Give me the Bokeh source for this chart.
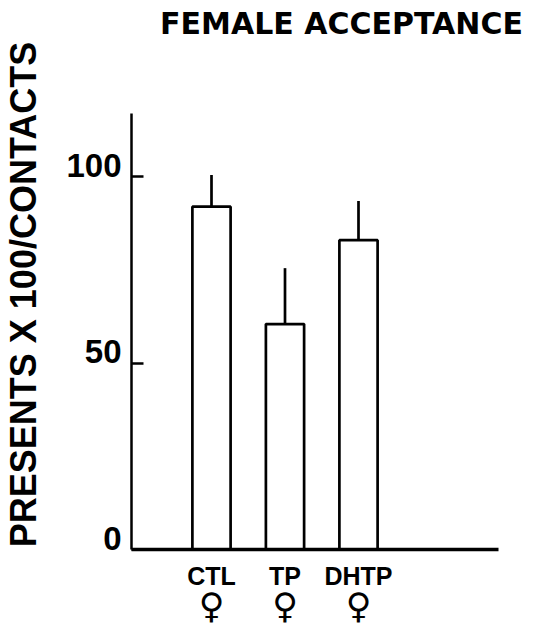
import math
from bokeh.plotting import figure
from bokeh.models import (ColumnDataSource, LabelSet, Label, Range1d, FixedTicker,
                          LinearAxis)
from bokeh.core.properties import value
from bokeh.embed import file_html
from bokeh.resources import INLINE

# ---- data ----
categories = ["CTL", "TP", "DHTP"]
symbols = ["\u2640", "\u2640", "\u2640"]
means = [92, 60.5, 83]
errors = [8.5, 15, 10.5]
y_ticks = [0, 50, 100]
y_tick_labels = ["0", "50", "100"]
title_text = "FEMALE ACCEPTANCE"
y_title = "PRESENTS X 100/CONTACTS"

W, H = 534, 629
# layout of the plotting area (pixels)
BAR_PX0, BAR_STEP = 211, 73.5          # centre of first bar, spacing
AX_LEFT, AX_RIGHT, AX_BOTTOM = 131, 498, 549
PX_PER_UNIT = 436 / 117
Y_TOP = 117

def xd(px):
    return 1 + (px - BAR_PX0) / BAR_STEP

def yd(py):
    return (AX_BOTTOM - py) / PX_PER_UNIT

xpos = [1, 2, 3]
tops = [m + e for m, e in zip(means, errors)]
x_axis_loc = xd(AX_LEFT)

src = ColumnDataSource(dict(x=xpos, cat=categories, sym=symbols,
                            mean=means, top=tops, zero=[0] * len(xpos)))
tick_src = ColumnDataSource(dict(y=y_ticks, lab=y_tick_labels,
                                 x=[x_axis_loc] * len(y_ticks)))

p = figure(width=W, height=H, output_backend="svg", toolbar_location=None,
           x_range=Range1d(xd(0), xd(W)), y_range=Range1d(yd(H), yd(0)),
           min_border=0, x_axis_type=None, y_axis_type=None)
p.outline_line_color = None
p.background_fill_color = "white"
p.border_fill_color = "white"

# axes drawn at fixed data locations
yax = LinearAxis(ticker=FixedTicker(ticks=y_ticks), fixed_location=x_axis_loc,
                 bounds=(0, Y_TOP),
                 major_label_overrides={t: "" for t in y_ticks})
yax.axis_line_width = 2.5
yax.axis_line_color = "black"
yax.major_tick_in = 12
yax.major_tick_out = 0
yax.major_tick_line_width = 2.5
yax.minor_tick_line_color = None
p.add_layout(yax, "left")

xax = LinearAxis(ticker=FixedTicker(ticks=[]), fixed_location=0,
                 bounds=(x_axis_loc, xd(AX_RIGHT)))
xax.axis_line_width = 3.5
xax.axis_line_color = "black"
xax.major_tick_line_color = None
xax.minor_tick_line_color = None
p.add_layout(xax, "above")

# bars
p.vbar(x="x", top="mean", bottom=0, width=0.52, source=src,
       fill_color="white", line_color="black", line_width=2.7)
# upper error whiskers
p.segment(x0="x", y0="mean", x1="x", y1="top", source=src,
          line_color="black", line_width=2.7)

# y tick labels (bottom-aligned with the ticks)
p.add_layout(LabelSet(x="x", y="y", text="lab", source=tick_src,
                      text_align="right", text_baseline="alphabetic",
                      x_offset=-10, y_offset=0,
                      text_font=value("Liberation Sans"), text_font_style="bold",
                      text_font_size="33px", text_color="black"))

# category labels and female symbols
p.add_layout(LabelSet(x="x", y="zero", text="cat", source=src,
                      text_align="center", text_baseline="top",
                      y_offset=-12, text_font=value("Liberation Sans"),
                      text_font_style="bold", text_font_size="25px",
                      text_color="black"))
p.add_layout(LabelSet(x="x", y="zero", text="sym", source=src,
                      text_align="center", text_baseline="top",
                      y_offset=-36, text_font=value("DejaVu Sans"),
                      text_font_size="35px", text_color="black"))

# title and y label
p.add_layout(Label(x=xd(341), y=yd(23), text=title_text,
                   text_align="center", text_baseline="middle",
                   text_font="DejaVu Sans", text_font_style="bold",
                   text_font_size="30px", text_color="black"))
p.add_layout(Label(x=xd(23), y=yd(294), text=y_title, angle=math.pi / 2,
                   text_align="center", text_baseline="middle",
                   text_font="Liberation Sans", text_font_style="bold",
                   text_font_size="36px", text_color="black"))

open("out.html", "w").write(file_html(p, INLINE))
